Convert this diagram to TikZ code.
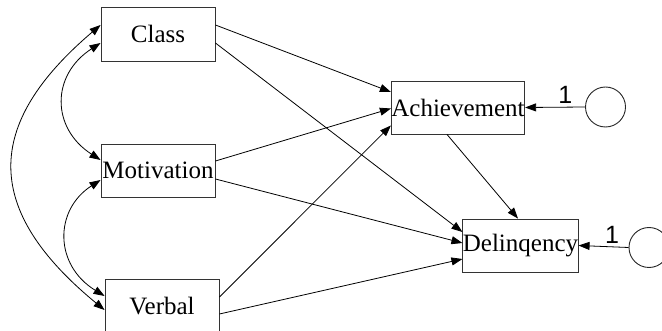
\documentclass[tikz,border=0pt]{standalone}
\usepackage{fontspec}
\setmainfont{Liberation Serif}
\newfontfamily\labelsans{Liberation Sans}
\usetikzlibrary{arrows.meta}
\begin{document}
\begin{tikzpicture}[x=1pt,y=-1pt,
  varbox/.style={draw=black!80,line width=0.9pt,rectangle,inner sep=0pt,
    font=\fontsize{25}{29}\selectfont},
  errc/.style={draw=black!85,line width=0.9pt,circle,minimum size=40pt,inner sep=0pt},
  path/.style={line width=0.8pt,-{Triangle[length=11pt,width=8pt]}},
  cov/.style={line width=0.8pt,{Triangle[length=11pt,width=8pt]}-{Triangle[length=11pt,width=8pt]}},
  onelab/.style={font=\labelsans\fontsize{25}{28}\selectfont,inner sep=0pt,above=3pt}]
\useasboundingbox (0,0) rectangle (662,331);
\node[varbox,minimum width=114pt,minimum height=54pt] (class) at (158,34) {Class};
\node[varbox,minimum width=114pt,minimum height=53pt] (motiv) at (158,170.5) {Motivation};
\node[varbox,minimum width=114pt,minimum height=54pt] (verbal) at (162,306) {Verbal};
\node[varbox,minimum width=132pt,minimum height=53pt] (achv) at (458,107.5) {Achievement};
\node[varbox,minimum width=115pt,minimum height=53pt] (delq) at (520.5,245.5) {Delinqency};
\node[errc] (e1) at (605.5,107) {};
\node[errc] (e2) at (649,247.5) {};
% paths
\draw[path] ([yshift=9pt]class.east) -- ([yshift=15.5pt]achv.west);
\draw[path] ([yshift=-9pt]class.east) -- ([yshift=13.5pt]delq.west);
\draw[path] ([yshift=9.5pt]motiv.east) -- ([yshift=-1pt]achv.west);
\draw[path] ([yshift=-8.5pt]motiv.east) -- ([yshift=2.5pt]delq.west);
\draw[path] ([yshift=9pt]verbal.east) -- ([yshift=-18pt]achv.west);
\draw[path] ([yshift=-8pt]verbal.east) -- ([yshift=-13.5pt]delq.west);
\draw[path] ([xshift=-11pt]achv.south) -- ([xshift=-2.5pt]delq.north);
% errors
\draw[path] (e1.west) -- node[onelab,pos=0.33] {1} (achv.east);
\draw[path] (e2.west) -- node[onelab,pos=0.33] {1} (delq.east);
% covariances
\draw[cov] ([yshift=9pt]class.west) .. controls (-17,125) and (-17,210) .. ([yshift=-4pt]verbal.west);
\draw[cov] ([yshift=-9pt]class.west) .. controls (51,75) and (51,128) .. ([yshift=10.5pt]motiv.west);
\draw[cov] ([yshift=-9.5pt]motiv.west) .. controls (54,210) and (54,265) .. ([yshift=10pt]verbal.west);
\end{tikzpicture}
\end{document}
